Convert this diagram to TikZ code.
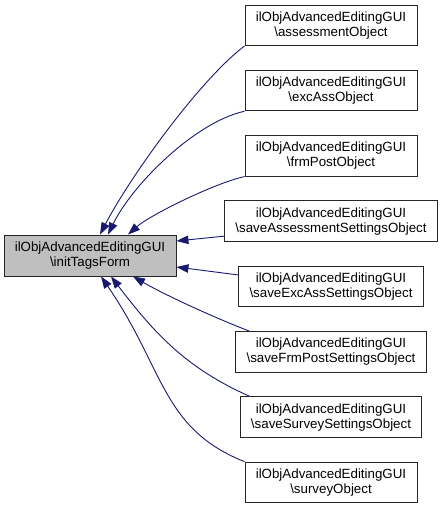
\documentclass[tikz,border=0pt]{standalone}
\usepackage{fontspec}
\setmainfont{Liberation Sans}
\usetikzlibrary{arrows.meta}
\definecolor{edgeblue}{HTML}{191970}
\definecolor{mainfill}{HTML}{BFBFBF}
\begin{document}
\begin{tikzpicture}[x=1pt,y=-1pt,
  box/.style={draw=black!85, line width=0.9pt, fill=white, align=center,
    font=\fontsize{13.33}{15}\selectfont, inner xsep=10.8pt, inner ysep=0pt,
    minimum height=40.5pt},
  mainbox/.style={box, fill=mainfill, minimum height=41pt},
  edge/.style={draw=edgeblue, line width=0.9pt,
    -{Triangle[length=12pt,width=8.5pt]}}
]
\useasboundingbox (0,0) rectangle (443,509);

\node[mainbox] (m) at (90,255.5) {ilObjAdvancedEditingGUI\\\textbackslash initTagsForm};

\node[box] (n1) at (331,25.25)  {ilObjAdvancedEditingGUI\\\textbackslash assessmentObject};
\node[box] (n2) at (331,90.55)  {ilObjAdvancedEditingGUI\\\textbackslash excAssObject};
\node[box] (n3) at (331,155.85) {ilObjAdvancedEditingGUI\\\textbackslash frmPostObject};
\node[box] (n4) at (331,221.15) {ilObjAdvancedEditingGUI\\\textbackslash saveAssessmentSettingsObject};
\node[box] (n5) at (331,286.45) {ilObjAdvancedEditingGUI\\\textbackslash saveExcAssSettingsObject};
\node[box] (n6) at (331,351.75) {ilObjAdvancedEditingGUI\\\textbackslash saveFrmPostSettingsObject};
\node[box] (n7) at (331,417.05) {ilObjAdvancedEditingGUI\\\textbackslash saveSurveySettingsObject};
\node[box] (n8) at (331,482.35) {ilObjAdvancedEditingGUI\\\textbackslash surveyObject};

\draw[edge] (n1.south west) .. controls (197.6,81.8) and (128.3,180) .. ([xshift=10pt]m.north);
\draw[edge] (n2.south west) .. controls (195,122) and (132,185) .. ([xshift=18pt]m.north);
\draw[edge] (n3.south west) .. controls (215,183) and (150,215) .. ([xshift=38pt]m.north);
\draw[edge] ([yshift=-15pt]n4.west) -- ([yshift=14.5pt]m.east);
\draw[edge] ([yshift=11.5pt]n5.west) -- ([yshift=-11.5pt]m.east);
\draw[edge] ([xshift=14pt]n6.north west) .. controls (215,318) and (165,295) .. ([xshift=43pt]m.south);
\draw[edge] ([xshift=10pt]n7.north west) .. controls (186,368) and (155,334) .. ([xshift=21pt]m.south);
\draw[edge] (n8.north west) .. controls (161.5,428.6) and (164.6,368.8) .. ([xshift=11pt]m.south);
\end{tikzpicture}
\end{document}
